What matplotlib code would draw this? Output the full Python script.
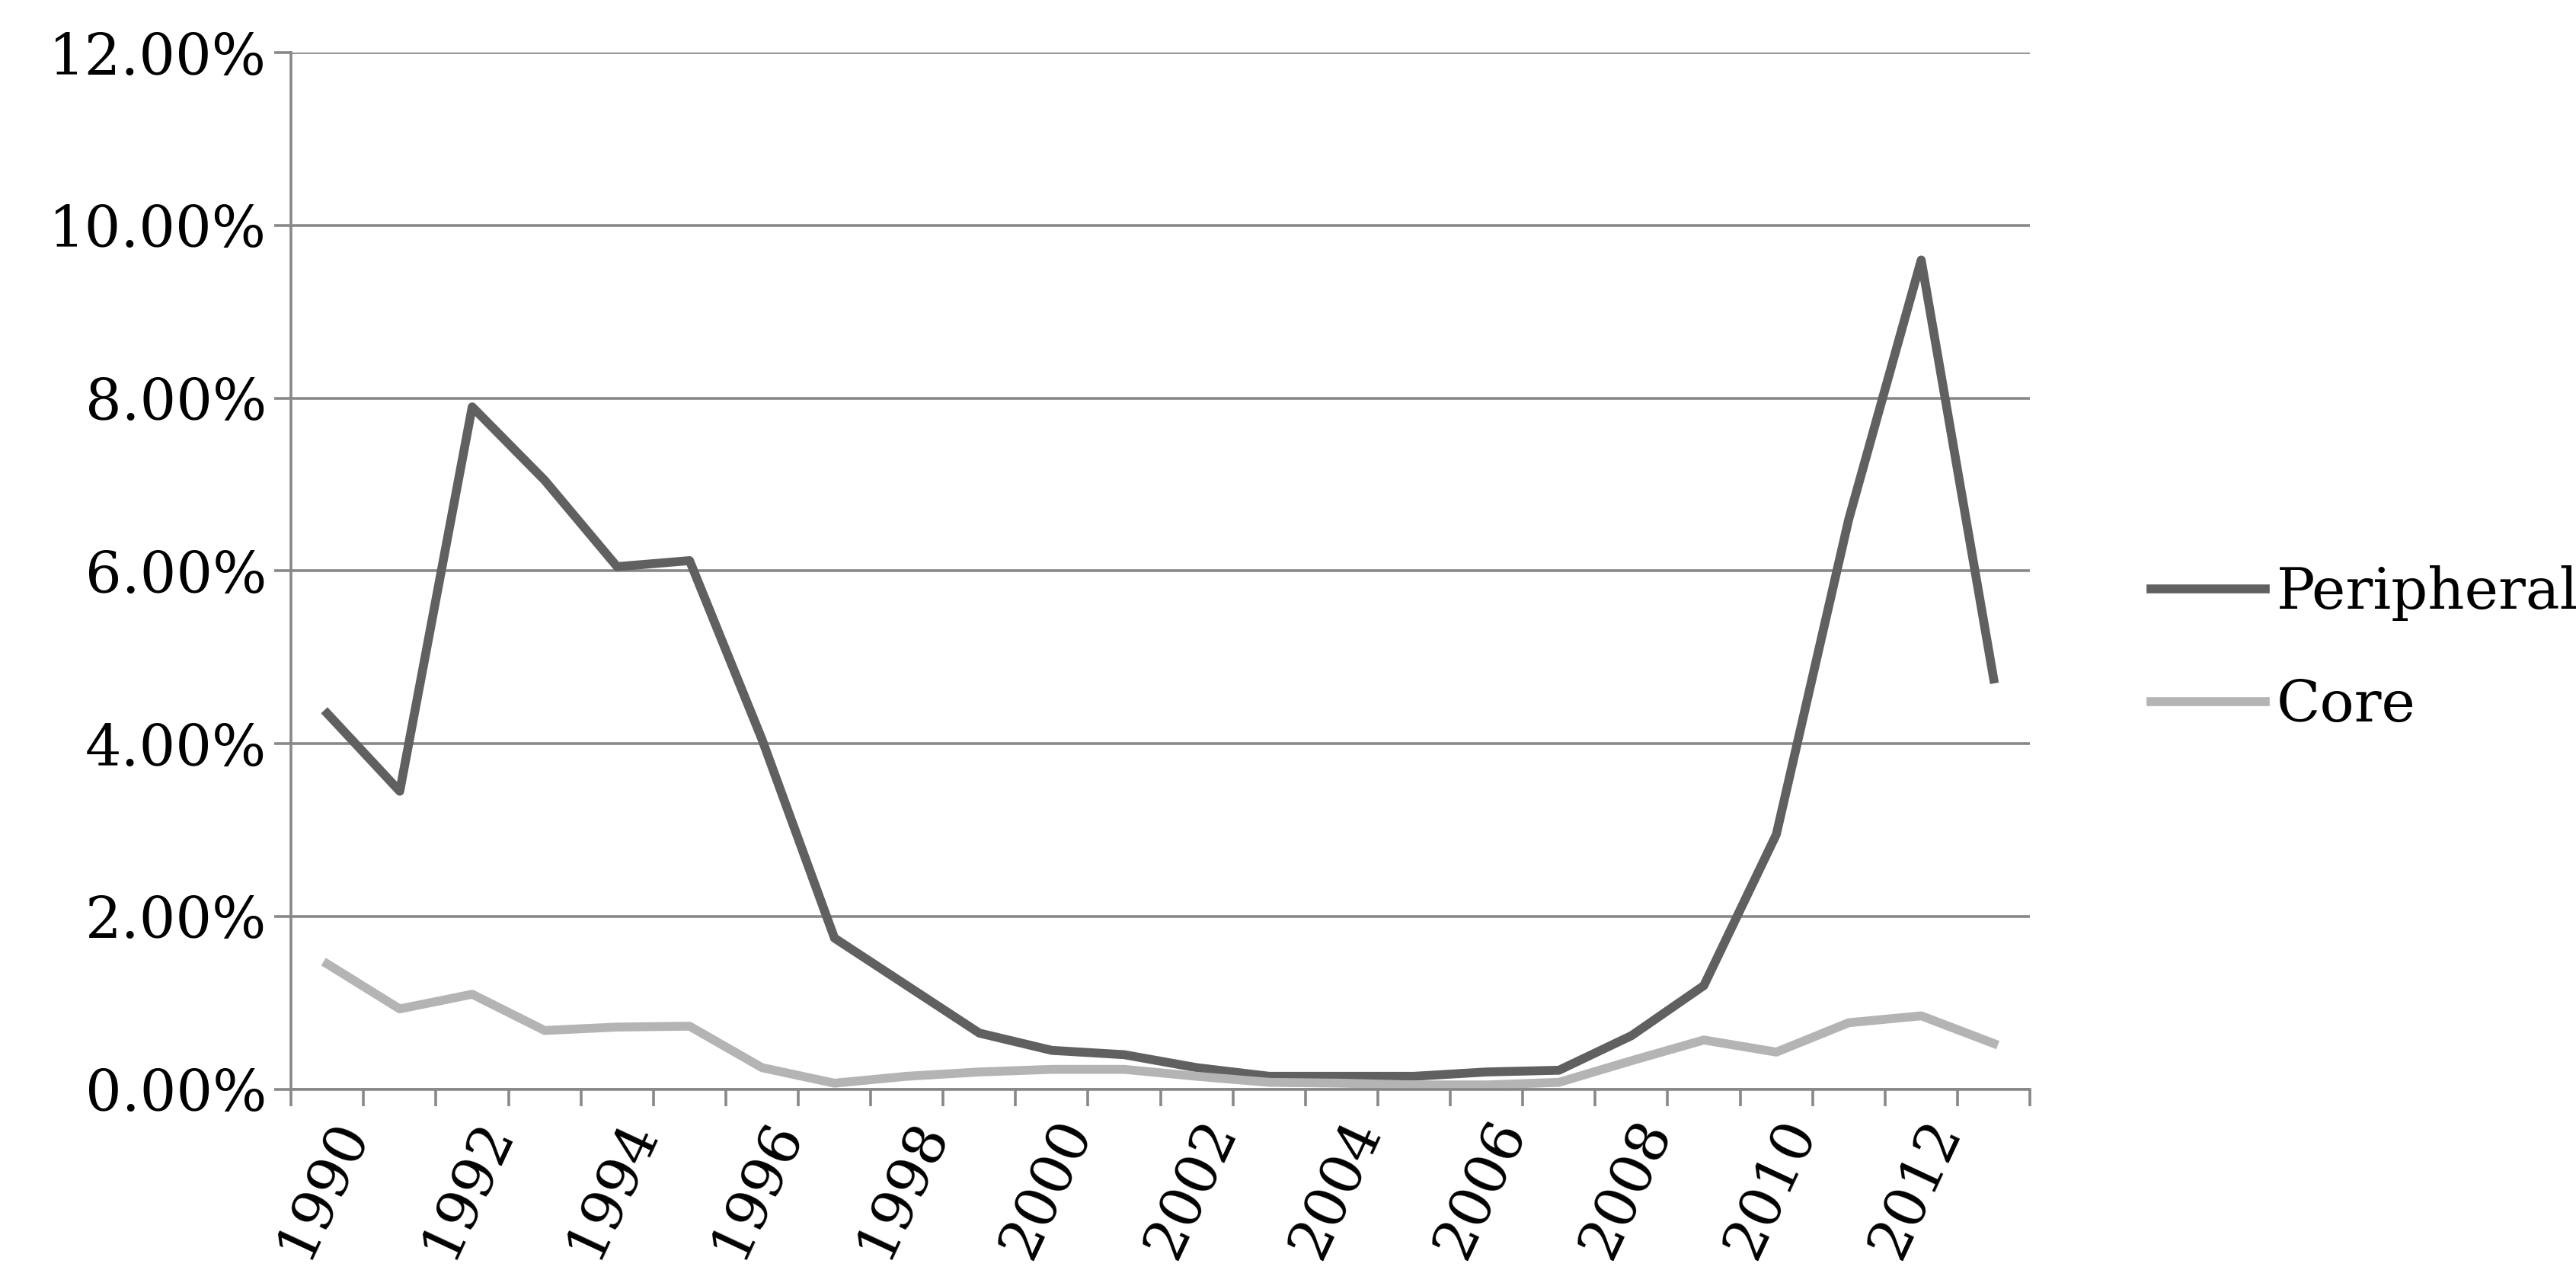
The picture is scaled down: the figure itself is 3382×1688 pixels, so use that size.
import matplotlib
matplotlib.use("Agg")
import matplotlib.pyplot as plt
import numpy as np
from matplotlib.ticker import FixedLocator, FuncFormatter

years = list(range(1990, 2014))
peripheral = [4.35, 3.45, 7.9, 7.05, 6.05, 6.12, 4.05, 1.75, 1.2, 0.65, 0.45, 0.4, 0.25,
              0.15, 0.15, 0.15, 0.2, 0.22, 0.62, 1.2, 2.95, 6.6, 9.6, 4.75]
core = [1.45, 0.93, 1.1, 0.68, 0.72, 0.73, 0.25, 0.07, 0.15, 0.2, 0.23, 0.23, 0.15,
        0.08, 0.07, 0.05, 0.05, 0.08, 0.33, 0.57, 0.43, 0.77, 0.85, 0.53]
yticks = [0, 2, 4, 6, 8, 10, 12]

plt.rcParams['font.family'] = ['DejaVu Serif']
fig = plt.figure(figsize=(16.91, 8.44), dpi=200)
ax = fig.add_axes([0.113, 0.153, 0.675, 0.806])
x = np.arange(len(years))
ax.plot(x, peripheral, color='#606060', lw=4.2, label='Peripheral')
ax.plot(x, core, color='#b4b4b4', lw=4.2, label='Core')
ax.set_xlim(-0.5, len(years) - 0.5)
ax.set_ylim(0, 12)
ax.set_yticks(yticks)
ax.yaxis.set_major_formatter(FuncFormatter(lambda v, p: f"{v:.2f}%"))
ax.grid(axis='y', color='#888888', lw=1.3)
ax.set_axisbelow(True)
ax.set_xticks(x[::2])
ax.set_xticklabels([str(y) for y in years[::2]], rotation=65, ha='right', rotation_mode='anchor')
ax.xaxis.set_minor_locator(FixedLocator(np.arange(-0.5, len(years), 1)))
ax.tick_params(axis='x', which='major', length=0, labelsize=27, pad=10)
ax.tick_params(axis='x', which='minor', length=8, color='#888888', width=1.3)
ax.tick_params(axis='y', length=8, color='#888888', width=1.3, labelsize=27)
for s in ['top', 'right']:
    ax.spines[s].set_visible(False)
for s in ['left', 'bottom']:
    ax.spines[s].set_color('#888888')
    ax.spines[s].set_linewidth(1.3)
fig.legend(loc='center left', bbox_to_anchor=(0.815, 0.495), frameon=False,
           fontsize=27, handlelength=2.0, labelspacing=1.0, handletextpad=0.2)
fig.savefig('out.png', dpi=200)
